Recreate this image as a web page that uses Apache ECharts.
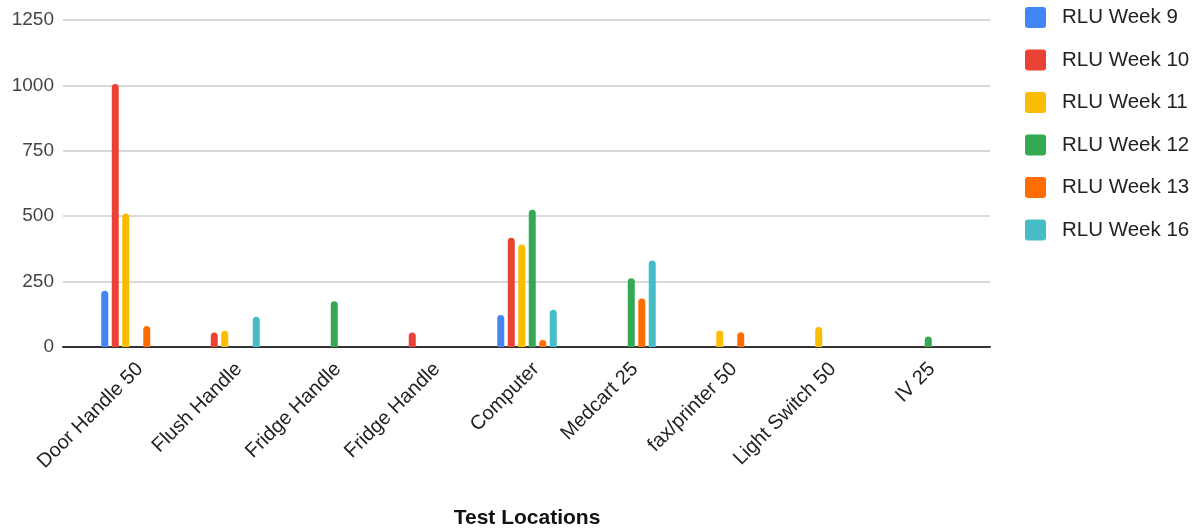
<!DOCTYPE html>
<html><head><meta charset="utf-8">
<script src="https://cdn.jsdelivr.net/npm/echarts@6/dist/echarts.min.js"></script>
<style>html,body{margin:0;padding:0;background:#fff}#c{width:1202px;height:531px}</style>
</head><body><div id="c"></div>
<script>
const categories = ['Door Handle 50','Flush Handle','Fridge Handle','Fridge Handle','Computer','Medcart 25','fax/printer 50','Light Switch 50','IV 25'];
const seriesNames = ['RLU Week 9','RLU Week 10','RLU Week 11','RLU Week 12','RLU Week 13','RLU Week 16'];
const week9  = [215, null, null, null, 122, null, null, null, null];
const week10 = [1005, 55, null, 55, 418, null, null, null, null];
const week11 = [510, 62, null, null, 392, null, 63, 76, null];
const week12 = [null, null, 175, null, 525, 263, null, null, 40];
const week13 = [80, null, null, null, 27, 185, 56, null, null];
const week16 = [null, 116, null, null, 142, 331, null, null, null];
const yTicks = [0, 250, 500, 750, 1000, 1250];
const colors = ['#4285f4','#ea4335','#fbbc04','#34a853','#ff6d01','#46bdc6'];
const allData = [week9, week10, week11, week12, week13, week16];

const chart = echarts.init(document.getElementById('c'), null, {renderer:'canvas'});
const font = 'Arial, "Liberation Sans", sans-serif';
const gridBase = {top:20, bottom:184, containLabel:false, outerBoundsMode:'none'};
const legendIcon = 'path://M3,0H18A3,3,0,0,1,21,3V18A3,3,0,0,1,18,21H3A3,3,0,0,1,0,18V3A3,3,0,0,1,3,0Z';
chart.setOption({
  animation:false,
  color: colors,
  textStyle:{fontFamily:font},
  legend:{
    orient:'vertical', left:1020, top:2, itemWidth:21, itemHeight:21, itemGap:21.5,
    icon:legendIcon,
    textStyle:{fontSize:20.5, color:'#222', fontFamily:font, padding:[0,0,0,11]},
    data: seriesNames
  },
  grid:[
    Object.assign({left:63, right:212}, gridBase),
    Object.assign({left:81.5, right:229.5}, gridBase),
    Object.assign({left:90.5, right:220.5}, gridBase)
  ],
  xAxis:[
    {gridIndex:0, type:'value', min:0, max:1, axisLine:{show:true, onZero:false, lineStyle:{color:'#333', width:2}}, axisTick:{show:false}, axisLabel:{show:false}, splitLine:{show:false}},
    {gridIndex:1, type:'category', data:categories, axisLine:{show:false}, axisTick:{show:false},
     axisLabel:{show:false},
     name:'Test Locations', nameLocation:'middle', nameGap:161,
     nameTextStyle:{fontSize:21, fontWeight:'bold', color:'#111', fontFamily:font}},
    {gridIndex:2, type:'category', data:categories, axisLine:{show:false}, axisTick:{show:false},
     axisLabel:{rotate:45, fontSize:20, color:'#222', margin:19, interval:0, fontFamily:font}}
  ],
  yAxis:[
    {gridIndex:0, type:'value', min:yTicks[0], max:yTicks[yTicks.length-1], interval:250,
     axisLine:{show:false}, axisTick:{show:false},
     axisLabel:{fontSize:19, color:'#444', margin:9, fontFamily:font, formatter:v=>String(v)},
     splitLine:{lineStyle:{color:'#cccccc', width:1.5}}},
    {gridIndex:1, type:'value', min:0, max:1250, interval:250, show:false, splitLine:{show:false}},
    {gridIndex:2, type:'value', min:0, max:1250, interval:250, show:false, splitLine:{show:false}}
  ],
  series: seriesNames.map((n,i)=>({
    name:n, type:'bar', xAxisIndex:1, yAxisIndex:1, data:allData[i],
    barWidth:7, barGap:'50%',
    itemStyle:{color:colors[i], borderRadius:[3.5,3.5,0,0]}
  }))
});
</script></body></html>
